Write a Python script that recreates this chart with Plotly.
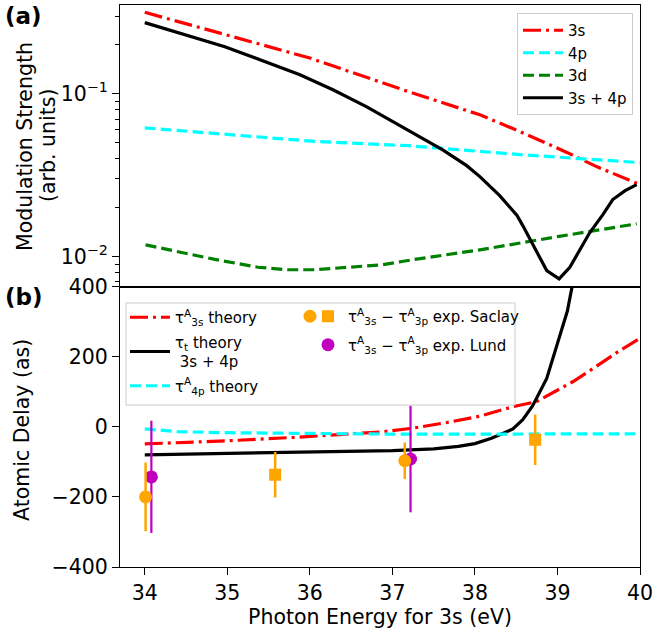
import plotly.graph_objects as go
from plotly.subplots import make_subplots

# ---------------- Data: panel (a) modulation strength ----------------
e_3s_a = [34.0, 35.0, 36.0, 37.2, 38.06, 38.55, 39.12, 39.48, 40.0]
mod_3s = [0.317, 0.229, 0.166, 0.103, 0.0743, 0.0585, 0.0435, 0.0356, 0.0277]

e_4p_a = [34.0, 36.06, 37.2, 38.55, 40.0]
mod_4p = [0.0618, 0.051, 0.048, 0.0423, 0.0378]

e_3d_a = [34.01, 34.45, 34.85, 35.37, 35.73, 36.06, 36.46, 36.87, 37.27, 38.06, 39.02, 39.96]
mod_3d = [0.0118, 0.0106, 0.0096, 0.0086, 0.0083, 0.0083, 0.0086, 0.0089, 0.0096, 0.0110, 0.0133, 0.0159]

e_tot_a = [34.0, 34.97, 35.88, 36.28, 36.69, 37.09, 37.61, 37.90, 38.06, 38.30, 38.51, 38.58,
           38.87, 39.02, 39.15, 39.39, 39.55, 39.67, 39.82, 39.96]
mod_tot = [0.274, 0.195, 0.131, 0.106, 0.0832, 0.0636, 0.0453, 0.0362, 0.031, 0.0237, 0.0179, 0.0155,
           0.0082, 0.0073, 0.0086, 0.014, 0.0181, 0.0224, 0.0254, 0.0277]

# ---------------- Data: panel (b) atomic delay ----------------
e_3s_b = [34.0, 35.0, 35.92, 36.85, 37.25, 37.66, 38.06, 38.46, 38.75, 39.19, 39.52, 39.76, 40.0]
delay_3s = [-49, -40, -29, -15, -4, 12, 30, 57, 72, 129, 180, 218, 252]

e_tot_b = [34.0, 35.0, 35.92, 36.85, 37.0, 37.5, 37.8, 38.0, 38.2, 38.35, 38.46, 38.58, 38.70,
           38.87, 38.99, 39.12, 39.19, 39.3]
delay_tot = [-80, -76, -72, -69, -68, -63, -56, -48, -33, -18, -6, 20, 60,
             138, 232, 330, 415, 560]

e_4p_b = [34.0, 34.4, 35.0, 36.0, 37.0, 38.0, 39.0, 40.0]
delay_4p = [-6, -14, -17, -20, -21, -21, -21, -20]

saclay_c_e = [34.01, 37.15]
saclay_c_d = [-200, -97]
saclay_c_err = [98, 52]

saclay_s_e = [35.58, 38.73]
saclay_s_d = [-137, -37]
saclay_s_err = [65, 72]

lund_e = [34.08, 37.22]
lund_d = [-143, -92]
lund_err = [160, 152]

x_ticks = [34, 35, 36, 37, 38, 39, 40]
ya_ticks = [0.01, 0.1]
ya_ticktext = ["10<sup>\u22122</sup>", "10<sup>\u22121</sup>"]
ya_minor = [0.007, 0.008, 0.009, 0.02, 0.03, 0.04, 0.05, 0.06, 0.07, 0.08, 0.09, 0.2, 0.3]
yb_ticks = [-400, -200, 0, 200, 400]

RED = "#ff0000"
CYAN = "#00ffff"
GREEN = "#008000"
ORANGE = "#ffa500"
MAGENTA = "#bf00bf"
FS = 20.5
DASHDOT = "18px,5px,3px,5px"
DASH = "11px,5px"
LW = 3.2

fig = make_subplots(rows=2, cols=1, shared_xaxes=True, vertical_spacing=0.0)

# panel (a)
fig.add_trace(go.Scatter(x=e_3s_a, y=mod_3s, mode="lines", name="3s",
                         line=dict(color=RED, width=LW, dash=DASHDOT),
                         legend="legend"), row=1, col=1)
fig.add_trace(go.Scatter(x=e_4p_a, y=mod_4p, mode="lines", name="4p",
                         line=dict(color=CYAN, width=LW, dash=DASH),
                         legend="legend"), row=1, col=1)
fig.add_trace(go.Scatter(x=e_3d_a, y=mod_3d, mode="lines", name="3d",
                         line=dict(color=GREEN, width=LW, dash=DASH),
                         legend="legend"), row=1, col=1)
fig.add_trace(go.Scatter(x=e_tot_a, y=mod_tot, mode="lines", name="3s + 4p",
                         line=dict(color="black", width=LW),
                         legend="legend"), row=1, col=1)

# panel (b) theory lines
fig.add_trace(go.Scatter(x=e_3s_b, y=delay_3s, mode="lines",
                         name="\u03c4<sup>A</sup><sub>3s</sub> theory",
                         line=dict(color=RED, width=LW, dash=DASHDOT),
                         legend="legend2", legendgroup="g1"), row=2, col=1)
fig.add_trace(go.Scatter(x=e_tot_b, y=delay_tot, mode="lines",
                         name="\u03c4<sub>t</sub> theory<br>&nbsp;3s + 4p",
                         line=dict(color="black", width=LW),
                         legend="legend2", legendgroup="g2"), row=2, col=1)
fig.add_trace(go.Scatter(x=e_4p_b, y=delay_4p, mode="lines",
                         name="\u03c4<sup>A</sup><sub>4p</sub> theory",
                         line=dict(color=CYAN, width=LW, dash=DASH),
                         legend="legend2", legendgroup="g3"), row=2, col=1)

# experimental points
fig.add_trace(go.Scatter(x=lund_e, y=lund_d, mode="markers",
                         name="\u03c4<sup>A</sup><sub>3s</sub> \u2212 \u03c4<sup>A</sup><sub>3p</sub> exp. Lund",
                         marker=dict(color=MAGENTA, size=13, symbol="circle"),
                         error_y=dict(type="data", array=lund_err, color=MAGENTA, thickness=2.2, width=0),
                         legend="legend4", legendrank=2, legendgroup="g5"), row=2, col=1)
fig.add_trace(go.Scatter(x=saclay_c_e, y=saclay_c_d, mode="markers",
                         name=" ",
                         marker=dict(color=ORANGE, size=13, symbol="circle"),
                         error_y=dict(type="data", array=saclay_c_err, color=ORANGE, thickness=2.5, width=0),
                         legend="legend3"), row=2, col=1)
fig.add_trace(go.Scatter(x=saclay_s_e, y=saclay_s_d, mode="markers",
                         name="\u03c4<sup>A</sup><sub>3s</sub> \u2212 \u03c4<sup>A</sup><sub>3p</sub> exp. Saclay",
                         marker=dict(color=ORANGE, size=12, symbol="square"),
                         error_y=dict(type="data", array=saclay_s_err, color=ORANGE, thickness=2.5, width=0),
                         legend="legend4", legendrank=1, legendgroup="g4"), row=2, col=1)

W, H = 653, 629
ML, MR, MT, MB = 120, 13, 5, 62
PW = W - ML - MR
PH = H - MT - MB


def px(xp):
    return (xp - ML) / PW


def py(yp):
    return (H - MB - yp) / PH


split = py(286.5)
axis_common = dict(showline=True, mirror=True, linecolor="black", linewidth=1,
                   showgrid=False, zeroline=False, automargin=False)
fig.update_layout(
    width=W, height=H,
    margin=dict(l=ML, r=MR, t=MT, b=MB, autoexpand=False),
    paper_bgcolor="white", plot_bgcolor="white",
    font=dict(family="DejaVu Sans", size=FS, color="black"),
    xaxis=dict(domain=[0, 1], range=[33.7, 40], showticklabels=False, ticks="",
               matches="x2", **axis_common),
    xaxis2=dict(domain=[0, 1], range=[33.7, 40], tickvals=x_ticks, ticks="outside",
                ticklen=7, tickwidth=1.2, tickcolor="black", ticklabeloverflow="allow",
                title=dict(text="Photon Energy for 3s (eV)", standoff=0, font=dict(size=FS)),
                **axis_common),
    yaxis=dict(domain=[split, 1], type="log", range=[-2.184, -0.454],
               tickvals=ya_ticks, ticktext=ya_ticktext, ticks="outside",
               ticklen=7, tickwidth=1.2, tickcolor="black", ticklabeloverflow="allow",
               minor=dict(tickvals=ya_minor, ticks="outside", ticklen=4, tickwidth=1, tickcolor="black", showgrid=False),
               **axis_common),
    yaxis2=dict(domain=[0, split], range=[-400, 400], tickvals=yb_ticks, ticks="outside",
                ticklen=7, tickwidth=1.2, tickcolor="black", ticklabeloverflow="allow",
                **axis_common),
    legend=dict(x=px(633), y=py(13), xanchor="right", yanchor="top",
                bgcolor="rgba(255,255,255,0.8)", bordercolor="#cccccc", borderwidth=1,
                font=dict(size=15), itemwidth=40, tracegroupgap=0),
    legend2=dict(x=px(125), y=py(301), xanchor="left", yanchor="top",
                 bgcolor="rgba(0,0,0,0)", borderwidth=0,
                 font=dict(size=15), itemwidth=40, tracegroupgap=2),
    legend3=dict(x=px(290), y=py(300), xanchor="left", yanchor="top",
                 bgcolor="rgba(0,0,0,0)", borderwidth=0,
                 font=dict(size=15), itemwidth=30),
    legend4=dict(x=px(308), y=py(300), xanchor="left", yanchor="top",
                 bgcolor="rgba(0,0,0,0)", borderwidth=0,
                 font=dict(size=15), itemwidth=30, tracegroupgap=6),
    showlegend=True,
)

# legend frame for panel (b)
fig.add_shape(type="rect", xref="paper", yref="paper",
              x0=px(126), x1=px(515), y0=py(405), y1=py(303),
              line=dict(color="#cccccc", width=1), fillcolor="rgba(255,255,255,0.85)",
              layer="above")

# axis titles and panel labels
fig.add_annotation(text="Modulation Strength", xref="paper", yref="paper",
                   x=px(25), y=py(147), textangle=-90, showarrow=False,
                   xanchor="center", yanchor="middle", font=dict(size=FS))
fig.add_annotation(text="(arb. units)", xref="paper", yref="paper",
                   x=px(48), y=py(146), textangle=-90, showarrow=False,
                   xanchor="center", yanchor="middle", font=dict(size=FS))
fig.add_annotation(text="Atomic Delay (as)", xref="paper", yref="paper",
                   x=px(22), y=py(430), textangle=-90, showarrow=False,
                   xanchor="center", yanchor="middle", font=dict(size=FS))
fig.add_annotation(text="<b>(a)</b>", xref="paper", yref="paper",
                   x=px(3), y=py(16), showarrow=False,
                   xanchor="left", yanchor="middle", font=dict(size=23))
fig.add_annotation(text="<b>(b)</b>", xref="paper", yref="paper",
                   x=px(3), y=py(297), showarrow=False,
                   xanchor="left", yanchor="middle", font=dict(size=23))

fig.write_html("out.html")
